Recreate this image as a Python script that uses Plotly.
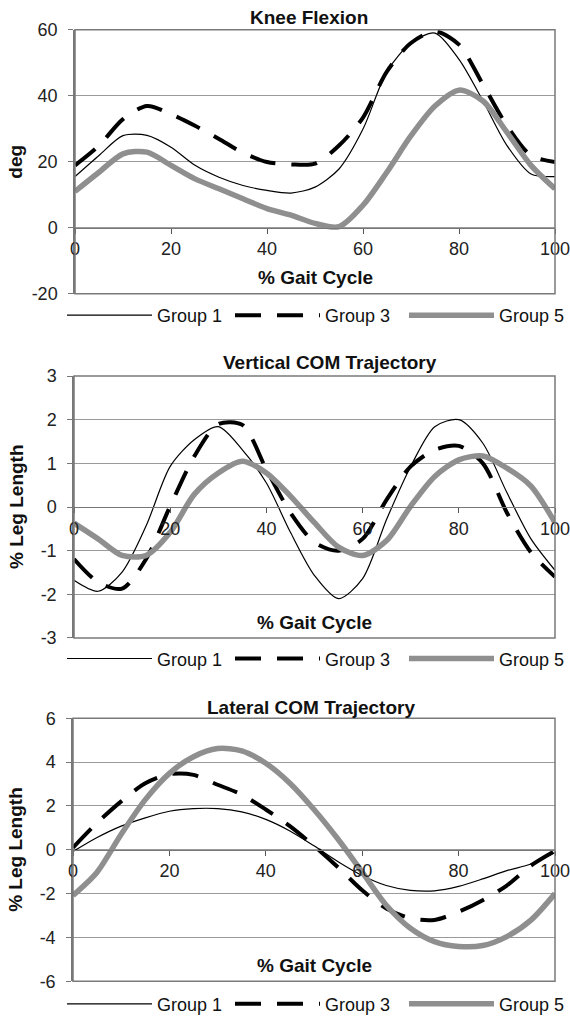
import plotly.graph_objects as go

W, H = 570, 1023

# ---------------- data ----------------
gait_pct = [0, 5, 10, 15, 20, 25, 30, 35, 40, 45, 50, 55, 60, 65, 70, 75, 80, 85, 90, 95, 100]

knee_g1 = [15.5, 21.9, 27.9, 28.0, 24.4, 18.9, 15.3, 12.8, 11.3, 10.5, 12.3, 17.8, 29.9, 47.4, 56.0, 59.0, 51.0, 38.4, 24.9, 16.3, 15.5]
knee_g3 = [18.9, 24.9, 32.9, 36.9, 34.4, 30.9, 26.9, 22.7, 19.9, 19.2, 19.4, 24.9, 33.4, 47.4, 56.0, 59.5, 55.5, 43.4, 30.9, 21.9, 19.9]
knee_g5 = [11.0, 16.8, 22.4, 22.9, 18.9, 14.8, 11.8, 8.8, 5.8, 3.8, 1.3, 0.3, 6.8, 16.9, 27.9, 36.9, 41.7, 38.4, 28.9, 18.9, 11.8]

vert_g1 = [-1.68, -1.93, -1.49, -0.43, 0.93, 1.54, 1.84, 1.31, 0.55, -0.58, -1.57, -2.10, -1.64, -0.28, 0.93, 1.84, 2.00, 1.46, 0.33, -0.73, -1.45]
vert_g3 = [-1.19, -1.72, -1.87, -1.19, 0.02, 1.16, 1.90, 1.88, 0.86, -0.13, -0.81, -1.00, -0.73, 0.17, 0.93, 1.31, 1.40, 1.00, -0.13, -1.04, -1.60]
vert_g5 = [-0.37, -0.73, -1.11, -1.11, -0.58, 0.29, 0.78, 1.05, 0.78, 0.25, -0.36, -0.92, -1.11, -0.77, 0.02, 0.70, 1.08, 1.17, 0.89, 0.48, -0.36]

lat_g1 = [-0.08, 0.56, 1.08, 1.46, 1.76, 1.88, 1.88, 1.73, 1.39, 0.86, 0.18, -0.54, -1.17, -1.63, -1.85, -1.87, -1.67, -1.33, -0.95, -0.65, -0.12]
lat_g3 = [0.10, 1.23, 2.21, 3.04, 3.45, 3.42, 2.97, 2.52, 1.84, 1.08, 0.18, -0.80, -1.85, -2.68, -3.13, -3.20, -2.83, -2.30, -1.63, -0.72, -0.05]
lat_g5 = [-2.08, -1.02, 0.71, 2.29, 3.49, 4.25, 4.62, 4.52, 3.95, 3.04, 1.84, 0.48, -1.02, -2.53, -3.58, -4.19, -4.41, -4.37, -3.96, -3.21, -2.00]

group_names = ["Group 1", "Group 3", "Group 5"]
panel_titles = ["Knee Flexion", "Vertical COM Trajectory", "Lateral COM Trajectory"]
y_titles = ["deg", "% Leg Length", "% Leg Length"]
x_title = "% Gait Cycle"
y_ranges = [(-20, 60), (-3, 3), (-6, 6)]
y_dticks = [20, 1, 2]
x_ticks = [0, 20, 40, 60, 80, 100]

panels = [
    (knee_g1, knee_g3, knee_g5),
    (vert_g1, vert_g3, vert_g5),
    (lat_g1, lat_g3, lat_g5),
]

# ---------------- layout geometry (px) ----------------
FONT = "Liberation Sans, Arial, sans-serif"
plot_px = [  # left, right, top, bottom
    (75, 555, 30, 296),
    (74, 555, 379, 643),
    (73, 555, 724, 989),
]
title_px_y = [18, 365, 713]
title_px_x = [309, 330, 311]
legend_px_y = [318, 664, 1012]
legend_text_px_x = [157, 325, None]
legend_itemwidth = 85

styles = [
    dict(color="black", width=1.2),
    dict(color="black", width=4, dash="26px,16px"),
    dict(color="#8f8f8f", width=5.5),
]

fig = go.Figure()
annotations = []
shapes = []
layout = {}


def tick_text(v):
    return ("%g" % v)


leg_idx = 0
for i, (series, (l, r, t, b)) in enumerate(zip(panels, plot_px)):
    n = "" if i == 0 else str(i + 1)
    xa, ya = "x" + n, "y" + n
    for j, (name, vals, st) in enumerate(zip(group_names, series, styles)):
        leg_idx += 1
        lg = "legend" if leg_idx == 1 else "legend" + str(leg_idx)
        fig.add_trace(go.Scatter(
            x=gait_pct, y=vals, name=name, mode="lines",
            line=dict(shape="spline", smoothing=0.8, **st),
            xaxis=xa, yaxis=ya, legend=lg, showlegend=True,
        ))
        if legend_text_px_x[j] is None:
            lx, lxa = 1.0, "right"
        else:
            lx, lxa = (legend_text_px_x[j] - 95) / W, "left"
        layout[lg] = dict(
            x=lx, y=1 - legend_px_y[i] / H,
            xanchor=lxa, yanchor="middle",
            font=dict(family=FONT, size=18, color="#111"), bgcolor="rgba(0,0,0,0)",
            itemwidth=legend_itemwidth, borderwidth=0,
        )
    ymin, ymax = y_ranges[i]
    yt = []
    v = ymin
    while v <= ymax + 1e-9:
        yt.append(v)
        v += y_dticks[i]
    ydom = [1 - b / H, 1 - t / H]
    xdom = [l / W, r / W]
    zero_pos = ydom[0] + (0 - ymin) / (ymax - ymin) * (ydom[1] - ydom[0])
    layout["xaxis" + n] = dict(
        domain=xdom, range=[0, 100], anchor="free", position=zero_pos,
        tickvals=x_ticks, ticktext=[tick_text(x) for x in x_ticks],
        ticks="outside", ticklen=5, tickcolor="#555",
        showline=True, linecolor="#777", linewidth=1, showgrid=False,
        zeroline=False, tickfont=dict(family=FONT, size=18, color="#222"),
        automargin=False, ticklabeloverflow="allow",
    )
    layout["yaxis" + n] = dict(
        domain=ydom, range=[ymin, ymax], anchor=xa,
        tickvals=yt, ticktext=[tick_text(y) for y in yt],
        ticks="outside", ticklen=5, tickcolor="#777", ticklabelstandoff=7,
        showline=True, linecolor="#777", linewidth=1.5,
        showgrid=True, gridcolor="#9a9a9a", gridwidth=1,
        zeroline=False, tickfont=dict(family=FONT, size=18, color="#222"),
        automargin=False, ticklabeloverflow="allow",
    )
    shapes.append(dict(type="rect", xref=xa + " domain", yref=ya + " domain",
                       x0=0, x1=1, y0=0, y1=1, line=dict(color="#7a7a7a", width=1.5),
                       layer="above"))
    annotations.append(dict(text="<b>" + panel_titles[i] + "</b>", xref="paper", yref="paper",
                            x=title_px_x[i] / W, y=1 - title_px_y[i] / H, showarrow=False,
                            font=dict(family=FONT, size=19, color="#111"),
                            xanchor="center", yanchor="middle"))
    annotations.append(dict(text="<b>" + y_titles[i] + "</b>", xref="paper", yref="paper",
                            x=16 / W, y=(ydom[0] + ydom[1]) / 2, textangle=-90,
                            showarrow=False, font=dict(family=FONT, size=19, color="#111"),
                            xanchor="center", yanchor="middle"))
    annotations.append(dict(text="<b>" + x_title + "</b>", xref=xa + " domain", yref=ya + " domain",
                            x=0.5, y=0.06, showarrow=False,
                            font=dict(family=FONT, size=19, color="#111"),
                            xanchor="center", yanchor="middle"))

fig.update_layout(
    width=W, height=H, margin=dict(l=0, r=0, t=0, b=0),
    paper_bgcolor="white", plot_bgcolor="white",
    annotations=annotations, shapes=shapes, **layout,
)

fig.write_html(
    "out.html",
    config={"displayModeBar": False},
    post_script="document.body.style.margin='0';document.body.style.padding='0';",
)
